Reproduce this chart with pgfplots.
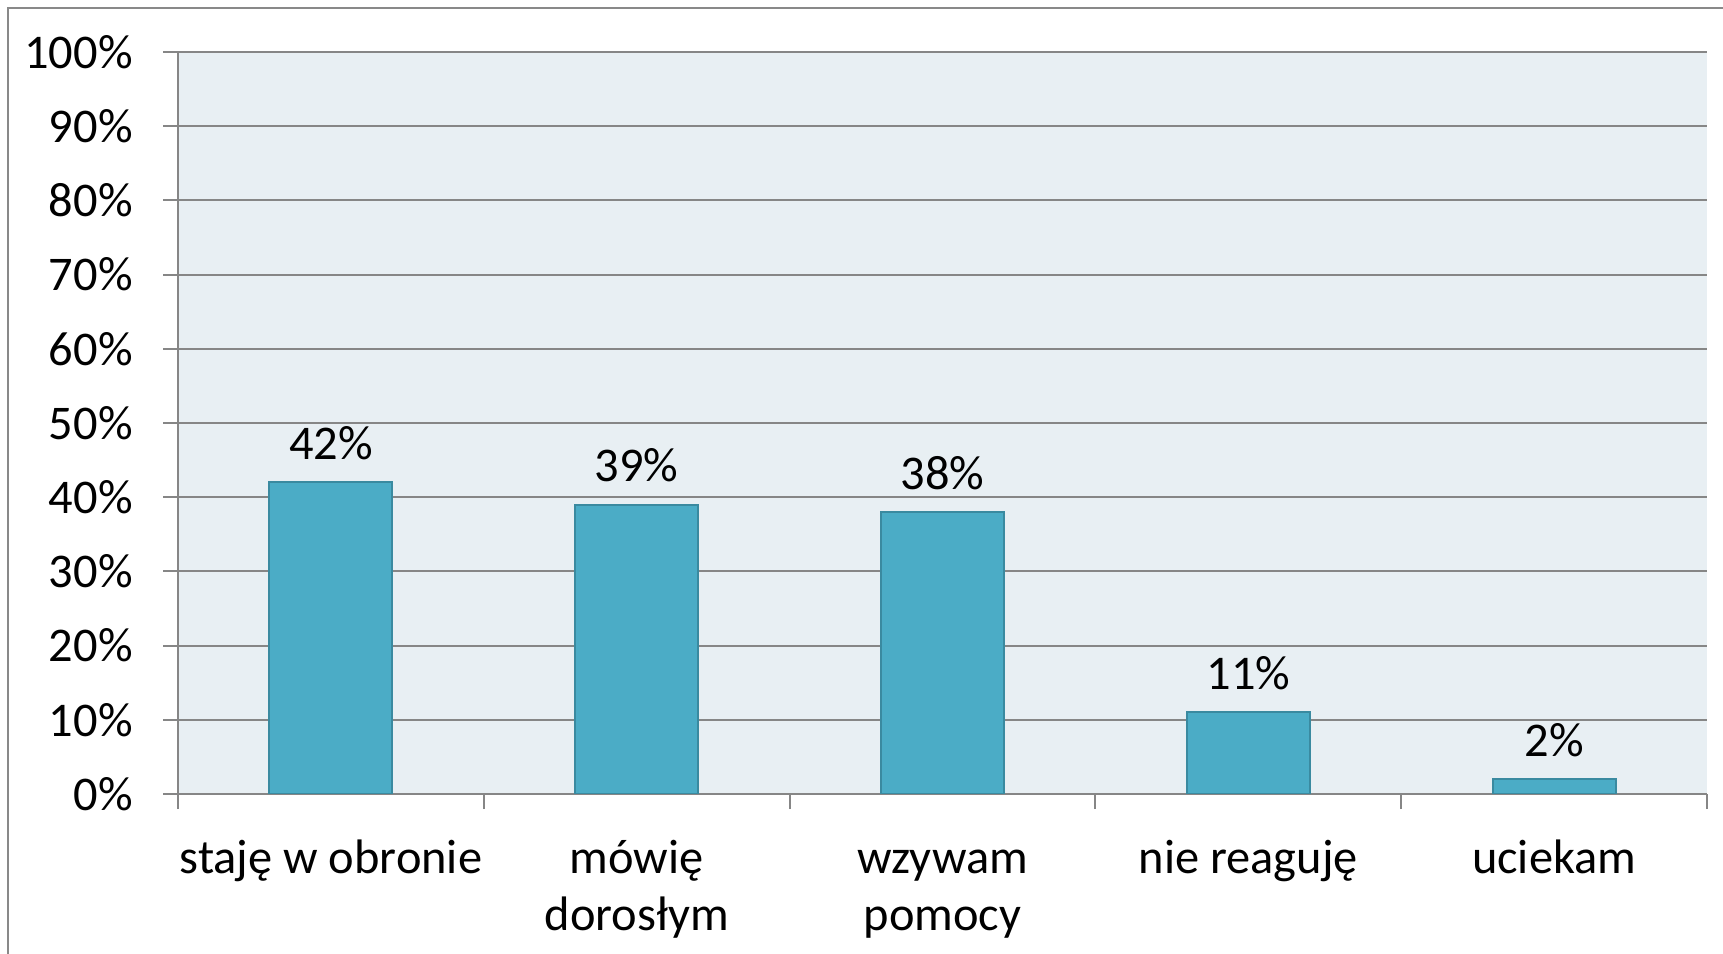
\documentclass[border=0pt]{standalone}
\usepackage{fontspec}
\setmainfont{Carlito}
\usepackage{pgfplots}
\pgfplotsset{compat=1.18}
\definecolor{barfill}{RGB}{75,172,198}
\definecolor{barline}{RGB}{58,138,160}
\definecolor{bgcol}{RGB}{232,239,243}
\definecolor{gridcol}{RGB}{134,134,134}
\definecolor{framecol}{RGB}{137,137,137}
\begin{document}
\begin{tikzpicture}
\useasboundingbox (0,0) rectangle (861.5bp,477bp);
\draw[framecol, line width=1.2bp] (4bp,-20bp) -- (4bp,473bp) -- (880bp,473bp);
\begin{axis}[
  at={(89bp,80bp)}, anchor=south west,
  scale only axis, width=764.5bp, height=371bp,
  xmin=-0.5, xmax=4.5, ymin=0, ymax=100,
  ybar, bar width=61.5bp,
  /pgf/number format/assume math mode=true,
  axis background/.style={fill=bgcol},
  axis x line*=bottom, axis y line*=left,
  axis line style={gridcol, line width=1bp, -},
  tick align=outside,
  major tick length=7.5bp, minor tick length=7.5bp,
  xtick={0,1,2,3,4},
  xticklabels={{\strut staję w obronie},{\strut mówię\\dorosłym},{\strut wzywam\\pomocy},{\strut nie reaguję},{\strut uciekam}},
  minor xtick={-0.5,0.5,1.5,2.5,3.5,4.5},
  major x tick style={draw=none},
  minor x tick style={gridcol, line width=1bp},
  ytick={0,10,...,100},
  yticklabel={\pgfmathprintnumber{\tick}\%},
  y tick style={gridcol, line width=1bp},
  ymajorgrids, grid style={gridcol, line width=1bp},
  tick label style={font=\fontsize{24.2bp}{28.5bp}\selectfont, text=black},
  yticklabel style={anchor=east, inner sep=0pt, xshift=-15bp},
  xticklabel style={anchor=north, inner sep=0pt, align=center, yshift=-12bp},
  nodes near coords={\pgfmathprintnumber{\pgfplotspointmeta}\%},
  every node near coord/.append style={font=\fontsize{24.2bp}{28.5bp}\selectfont, text=black, anchor=base, inner sep=0pt, yshift=11.5bp},
]
\addplot[fill=barfill, draw=barline, line width=1bp] coordinates {(0,42) (1,39) (2,38) (3,11) (4,2)};
\end{axis}
\end{tikzpicture}
\end{document}
